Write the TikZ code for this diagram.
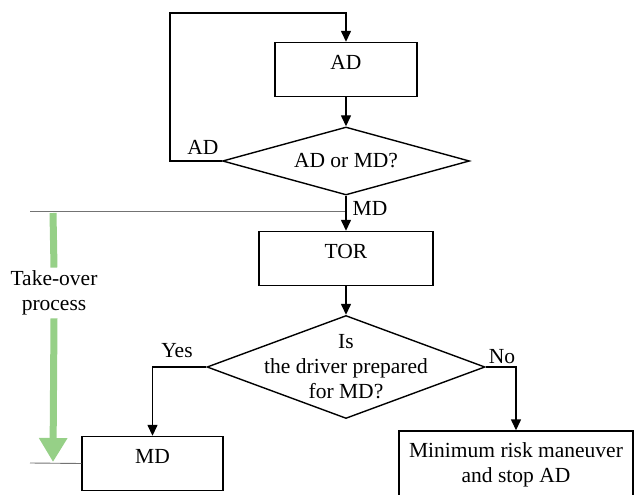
\documentclass[tikz,border=0pt]{standalone}
\usepackage{fontspec}
\setmainfont{Liberation Serif}
\usetikzlibrary{arrows.meta,shapes.geometric,positioning,calc}
\definecolor{tkgreen}{RGB}{150,208,135}

\begin{document}
\begin{tikzpicture}[x=1pt, y=-1pt,
    font=\fontsize{21.5}{25}\selectfont,
    block/.style={draw, line width=1.4pt, minimum width=#1, minimum height=54pt, align=center, inner sep=0pt},
    block/.default=142pt,
    lift/.style={text depth=14pt},
    decide/.style={draw, diamond, line width=1.4pt, inner sep=0pt, align=center},
    arr/.style={-{Triangle[length=11pt,width=10pt]}, line width=1.4pt},
    lbl/.style={inner sep=0pt},
    grayline/.style={draw=black!55, line width=0.9pt},
    greenbar/.style={draw=tkgreen, line width=7pt}
]
\useasboundingbox (0,0) rectangle (635,495);

\node[block=142pt, lift] (ad) at (346,69.5) {AD};
\node[decide, minimum width=247pt, minimum height=68pt, aspect=3.6] (q1) at (346,161) {AD or MD?};
\node[block=174pt, lift] (tor) at (346,258.5) {TOR};
\node[decide, minimum width=278pt, minimum height=103pt,
      label={[align=center]center:Is\\the driver prepared\\for MD?}] (q2) at (346,367) {};
\node[block=141pt, lift] (md) at (152.5,463.5) {MD};
\node[block=234pt, minimum height=67pt] (mrm) at (516,464.5) {Minimum risk maneuver\\and stop AD};

% branch labels
\node[lbl] (lad) at (203,147) {AD};
\node[lbl] (lmd) at (370,208) {MD};
\node[lbl] (lyes) at (177,351) {Yes};
\node[lbl] (lno) at (502,357) {No};

% take-over span
\coordinate (g1) at (30,211);
\coordinate (g2) at (30,463);
\coordinate (gtop) at (53,213);
\coordinate (gtip) at (53,462);
\draw[grayline] (g1) -- (g1 -| q1.south);
\draw[grayline] (g2) -- (md.west);
\node[align=center, inner sep=3pt] (tko) at (54,293) {Take-over\\process};
\draw[greenbar] (gtop) -- (tko.north);
\draw[greenbar, -{Triangle[length=24pt,width=27pt]}] (tko.south) -- (gtip);

% flow
\coordinate (loop) at (170,13);
\draw[arr] (ad) -- (q1);
\draw[arr] (q1.west) -| (loop) -| (ad.north);
\draw[arr] (q1) -- (tor);
\draw[arr] (tor) -- (q2);
\draw[arr] (q2.west) -| (md.north);
\draw[arr] (q2.east) -| (mrm.north);
\end{tikzpicture}
\end{document}
